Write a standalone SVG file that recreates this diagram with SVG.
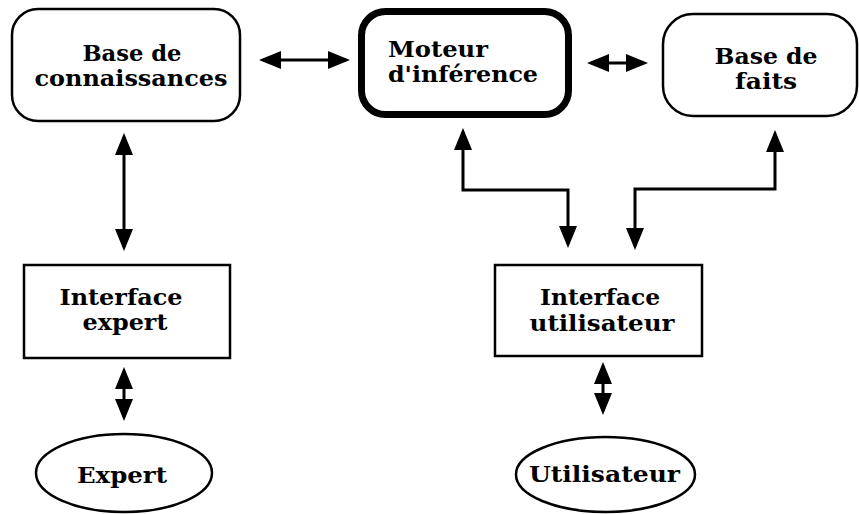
<svg xmlns="http://www.w3.org/2000/svg" width="859" height="514" viewBox="0 0 859 514">
<style>
.box{fill:#fff;stroke:#000;stroke-width:2.5}
.thick{fill:#fff;stroke:#000;stroke-width:7}
.t{font-family:"DejaVu Serif","Liberation Serif",serif;font-weight:bold;font-size:22px;fill:#000}
.c{stroke:#000;stroke-width:3;fill:none;stroke-linejoin:miter}
</style>
<defs>
<marker id="ah" viewBox="0 0 22 18" markerWidth="22" markerHeight="18" refX="18" refY="9" markerUnits="userSpaceOnUse" orient="auto-start-reverse">
<path d="M0,0 L22,9 L0,18 z" fill="#000"/>
</marker>
</defs>
<rect width="859" height="514" fill="#fff"/>
<g id="connectors">
<path class="c" d="M263,60 H346" marker-start="url(#ah)" marker-end="url(#ah)"/>
<path class="c" d="M591,63 H644" marker-start="url(#ah)" marker-end="url(#ah)"/>
<path class="c" d="M124,137 V247" marker-start="url(#ah)" marker-end="url(#ah)"/>
<path class="c" d="M124,371 V417" marker-start="url(#ah)" marker-end="url(#ah)"/>
<path class="c" d="M603,366 V411" marker-start="url(#ah)" marker-end="url(#ah)"/>
<path class="c" d="M463,132 V190 H568 V244" marker-start="url(#ah)" marker-end="url(#ah)"/>
<path class="c" d="M775,134 V189 H635 V246" marker-start="url(#ah)" marker-end="url(#ah)"/>
</g>
<g id="base-connaissances">
<rect class="box" x="12" y="9" width="228" height="112" rx="26" ry="26"/>
<text class="t" x="132" y="61" text-anchor="middle" textLength="99" lengthAdjust="spacingAndGlyphs">Base de</text>
<text class="t" x="131" y="86" text-anchor="middle" textLength="193" lengthAdjust="spacingAndGlyphs">connaissances</text>
</g>
<g id="moteur">
<rect class="thick" x="361.5" y="11.5" width="207" height="103" rx="24" ry="24"/>
<text class="t" x="388" y="57" textLength="100" lengthAdjust="spacingAndGlyphs">Moteur</text>
<text class="t" x="388" y="82" textLength="150" lengthAdjust="spacingAndGlyphs">d'inférence</text>
</g>
<g id="base-faits">
<rect class="box" x="663" y="14" width="194" height="102" rx="30" ry="30"/>
<text class="t" x="766" y="64" text-anchor="middle" textLength="103" lengthAdjust="spacingAndGlyphs">Base de</text>
<text class="t" x="766" y="89" text-anchor="middle" textLength="62" lengthAdjust="spacingAndGlyphs">faits</text>
</g>
<g id="interface-expert">
<rect class="box" x="24" y="265" width="206" height="93"/>
<text class="t" x="121" y="305" text-anchor="middle" textLength="123" lengthAdjust="spacingAndGlyphs">Interface</text>
<text class="t" x="125" y="330" text-anchor="middle" textLength="85" lengthAdjust="spacingAndGlyphs">expert</text>
</g>
<g id="interface-utilisateur">
<rect class="box" x="495" y="265" width="207" height="91"/>
<text class="t" x="600" y="305" text-anchor="middle" textLength="120" lengthAdjust="spacingAndGlyphs">Interface</text>
<text class="t" x="602" y="331" text-anchor="middle" textLength="145" lengthAdjust="spacingAndGlyphs">utilisateur</text>
</g>
<g id="expert">
<ellipse class="box" cx="124" cy="473" rx="88" ry="39"/>
<text class="t" x="122" y="483" text-anchor="middle" textLength="90" lengthAdjust="spacingAndGlyphs">Expert</text>
</g>
<g id="utilisateur">
<ellipse class="box" cx="605.5" cy="474.5" rx="89.5" ry="37.5"/>
<text class="t" x="604.5" y="482" text-anchor="middle" textLength="151" lengthAdjust="spacingAndGlyphs">Utilisateur</text>
</g>
</svg>
